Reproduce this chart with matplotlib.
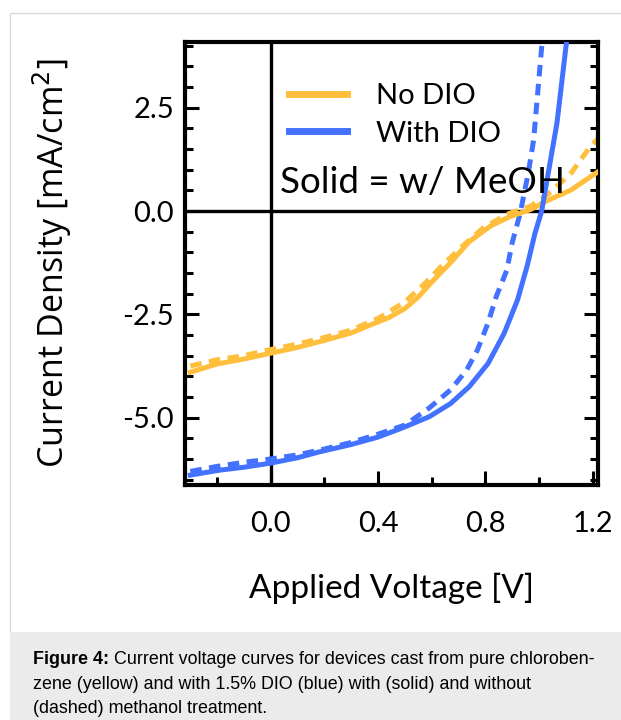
import matplotlib
matplotlib.use("Agg")
import matplotlib.pyplot as plt
from matplotlib.patches import Rectangle
from matplotlib.lines import Line2D
from matplotlib.ticker import MultipleLocator, FuncFormatter

# ---- data ----
# No DIO, with methanol (solid yellow)
v_nodio_meoh = [-0.3, -0.2, -0.1, 0.0, 0.1, 0.2, 0.3, 0.37, 0.44, 0.5, 0.55, 0.6, 0.67,
                0.74, 0.82, 0.89, 0.97, 1.03, 1.12, 1.19, 1.22]
j_nodio_meoh = [-3.9, -3.7, -3.58, -3.44, -3.3, -3.13, -2.95, -2.76, -2.58, -2.36, -2.08,
                -1.72, -1.25, -0.74, -0.36, -0.14, 0.04, 0.25, 0.51, 0.82, 0.95]

# No DIO, without methanol (dashed yellow)
v_nodio_plain = [-0.3, -0.2, -0.1, 0.0, 0.1, 0.2, 0.3, 0.4, 0.5, 0.575, 0.64, 0.72, 0.79,
                 0.88, 0.97, 1.04, 1.12, 1.19, 1.22]
j_nodio_plain = [-3.75, -3.6, -3.5, -3.35, -3.22, -3.06, -2.88, -2.6, -2.2, -1.75, -1.31,
                 -0.82, -0.42, -0.08, 0.12, 0.44, 0.92, 1.55, 1.75]

# With DIO, with methanol (solid blue)
v_dio_meoh = [-0.3, -0.19, -0.1, 0.0, 0.1, 0.18, 0.3, 0.4, 0.49, 0.59, 0.67, 0.74, 0.81,
              0.87, 0.92, 0.955, 0.985, 1.01, 1.03, 1.067, 1.1, 1.11]
j_dio_meoh = [-6.39, -6.27, -6.2, -6.1, -5.97, -5.83, -5.65, -5.47, -5.25, -4.98, -4.66,
              -4.25, -3.69, -2.96, -2.15, -1.35, -0.54, 0.0, 0.75, 2.13, 3.95, 4.45]

# With DIO, without methanol (dashed blue)
v_dio_plain = [-0.3, -0.2, -0.1, 0.0, 0.1, 0.2, 0.3, 0.4, 0.5, 0.59, 0.67, 0.73, 0.77, 0.81,
               0.84, 0.88, 0.90, 0.93, 0.96, 0.98, 1.01, 1.02]
j_dio_plain = [-6.3, -6.18, -6.08, -6.0, -5.9, -5.76, -5.6, -5.4, -5.18, -4.77, -4.33,
               -3.85, -3.37, -2.71, -2.08, -1.43, -0.77, -0.05, 0.92, 1.72, 3.97, 4.5]

legend_labels = ["No DIO", "With DIO"]
annotation = "Solid = w/ MeOH"
x_label = "Applied Voltage [V]"
y_label = "Current Density [mA/cm$^2$]"
caption_bold = "Figure 4:"
caption_lines = [" Current voltage curves for devices cast from pure chloroben-",
                 "zene (yellow) and with 1.5% DIO (blue) with (solid) and without",
                 "(dashed) methanol treatment."]

YELLOW = "#FFBE3C"
BLUE = "#4272FF"
FONT = "Lato"

W, H = 621, 720
fig = plt.figure(figsize=(W / 100, H / 100), dpi=100)

# outer frame and caption box
fig.patches.append(Rectangle((10 / W, 0), 1.2, (H - 13) / H, transform=fig.transFigure,
                             facecolor="white", edgecolor="#d8d8d8", lw=1.0, zorder=-2))
fig.patches.append(Rectangle((10 / W, 0), 1.2, (H - 632) / H, transform=fig.transFigure,
                             facecolor="#ebebeb", edgecolor="none", zorder=-1))

ax = fig.add_axes([185 / W, 1 - 485 / H, (598 - 185) / W, (485 - 42) / H])
ax.set_zorder(2)
ax.patch.set_alpha(0)
ax.set_xlim(-0.32, 1.22)
ax.set_ylim(-6.63, 4.09)

ax.axhline(0, color="black", lw=2.4, zorder=1)
ax.axvline(0, color="black", lw=2.4, zorder=1)

dash = (2.3, 1.5)
lw = 3.6
ax.plot(v_nodio_plain, j_nodio_plain, color=YELLOW, lw=lw, dashes=dash, zorder=2)
ax.plot(v_nodio_meoh, j_nodio_meoh, color=YELLOW, lw=lw, zorder=3)
ax.plot(v_dio_plain, j_dio_plain, color=BLUE, lw=lw, dashes=dash, zorder=2)
ax.plot(v_dio_meoh, j_dio_meoh, color=BLUE, lw=lw, zorder=3)

for s in ax.spines.values():
    s.set_linewidth(3.0)

ax.xaxis.set_major_locator(MultipleLocator(0.4))
ax.xaxis.set_minor_locator(MultipleLocator(0.2))
ax.yaxis.set_major_locator(MultipleLocator(2.5))
ax.yaxis.set_minor_locator(MultipleLocator(0.5))
ax.tick_params(axis="x", which="both", direction="in", top=False, bottom=True, width=2.2)
ax.tick_params(axis="x", which="major", length=10, pad=19, labelsize=21)
ax.tick_params(axis="x", which="minor", length=6)
ax.tick_params(axis="y", which="both", direction="in", left=True, right=True, width=2.2)
ax.tick_params(axis="y", which="major", length=10, pad=8, labelsize=21)
ax.tick_params(axis="y", which="minor", length=6)
ax.xaxis.set_major_formatter(FuncFormatter(lambda v, p: f"{v:.1f}"))
ax.yaxis.set_major_formatter(FuncFormatter(lambda v, p: f"{v:.1f}"))
for lab in ax.get_xticklabels() + ax.get_yticklabels():
    lab.set_fontfamily(FONT)

ax.set_xlabel(x_label, fontsize=24, fontfamily=FONT)
ax.xaxis.label.set_va("baseline")
ax.xaxis.set_label_coords(0.5, (485 - 598) / 443)
ax.set_ylabel(y_label, fontsize=24.5, fontfamily="Open Sans")
ax.yaxis.label.set_va("center")
ax.yaxis.set_label_coords((52 - 185) / 413, 0.5)

handles = [Line2D([], [], color=YELLOW, lw=5), Line2D([], [], color=BLUE, lw=5)]
leg = ax.legend(handles, legend_labels, loc="upper left",
                bbox_to_anchor=((289 - 185) / 413, (485 - 83) / 443),
                frameon=False, handlelength=2.0, handletextpad=1.0, labelspacing=0.4,
                borderaxespad=0, borderpad=0, prop={"family": FONT, "size": 21})

ax.text((280 - 185) / 413, (485 - 193) / 443, annotation, transform=ax.transAxes,
        fontsize=26.5, fontfamily=FONT, va="baseline", ha="left", zorder=5)

# caption
CAP = 12.9
base_y = [664, 689, 713]
t = fig.text(33 / W, 1 - base_y[0] / H, caption_bold, fontsize=CAP, fontweight="bold",
             fontfamily="Liberation Sans", va="baseline", ha="left")
fig.canvas.draw()
bb = t.get_window_extent()
fig.text(bb.x1 / W, 1 - base_y[0] / H, caption_lines[0], fontsize=CAP,
         fontfamily="Liberation Sans", va="baseline", ha="left")
for line, y in zip(caption_lines[1:], base_y[1:]):
    fig.text(33 / W, 1 - y / H, line, fontsize=CAP, fontfamily="Liberation Sans",
             va="baseline", ha="left")

fig.savefig("out.png", dpi=100)
